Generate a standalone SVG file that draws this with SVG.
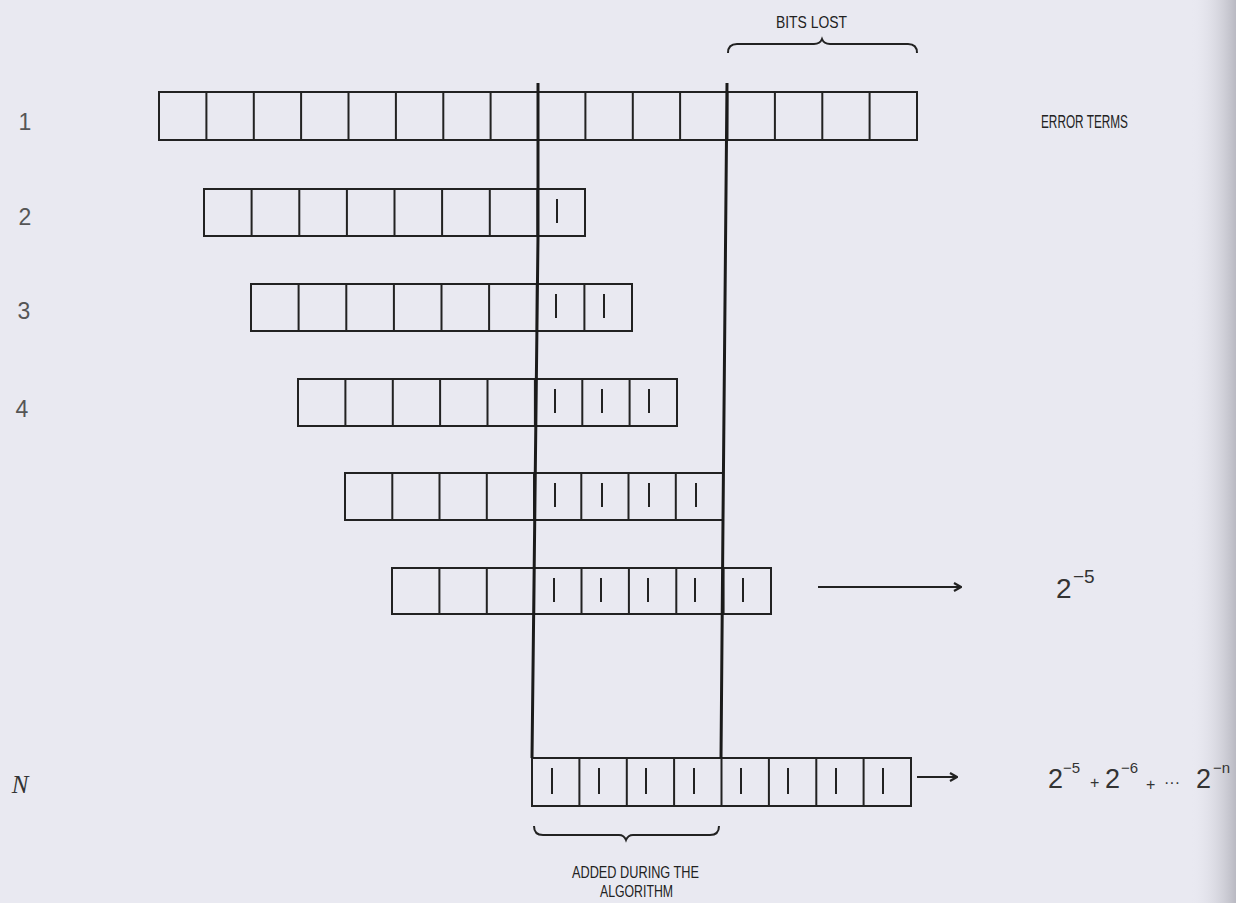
<svg xmlns="http://www.w3.org/2000/svg" width="1236" height="903" viewBox="0 0 1236 903">
<defs>
<style>
.cell{fill:none;stroke:#222;stroke-width:2}
.div{stroke:#222;stroke-width:2}
.mark{stroke:#222;stroke-width:2}
.bar{stroke:#1a1a1a;stroke-width:3;fill:none}
.brace{fill:none;stroke:#222;stroke-width:2}
.arr{stroke:#222;stroke-width:2;fill:none}
.lbl{font-family:"Liberation Sans",Arial,sans-serif;fill:#222}
.num{font-family:"Liberation Sans",Arial,sans-serif;fill:#555;font-size:23px;text-anchor:middle}
.math{font-family:"Liberation Sans",Arial,sans-serif;fill:#333}
</style>
<marker id="ah" viewBox="0 0 10 10" refX="9" refY="5" markerWidth="10" markerHeight="10" markerUnits="userSpaceOnUse" orient="auto">
<path d="M2,1 L9,5 L2,9" fill="none" stroke="#222" stroke-width="2.2"/>
</marker>
<linearGradient id="edge" x1="0" y1="0" x2="1" y2="0">
<stop offset="0" stop-color="#e9e9f1" stop-opacity="0"/>
<stop offset="1" stop-color="#b9b9c2"/>
</linearGradient>
</defs>
<rect x="0" y="0" width="1236" height="903" fill="#e9e9f1"/>
<rect x="1190" y="0" width="46" height="903" fill="url(#edge)"/>

<g id="row-labels">
<text class="num" x="25" y="130">1</text>
<text class="num" x="25" y="225">2</text>
<text class="num" x="24" y="319">3</text>
<text class="num" x="22" y="417">4</text>
<text x="20" y="793" style="font-family:'Liberation Serif',serif;font-style:italic;font-size:25px;fill:#333;text-anchor:middle">N</text>
</g>

<g id="row1">
<rect class="cell" x="159" y="92" width="758" height="48"/>
<path class="div" d="M206.4,92V140M253.8,92V140M301.1,92V140M348.5,92V140M395.9,92V140M443.3,92V140M490.6,92V140M538,92V140M585.4,92V140M632.8,92V140M680.1,92V140M727.5,92V140M774.9,92V140M822.3,92V140M869.6,92V140"/>
</g>

<g id="row2">
<rect class="cell" x="204" y="189" width="381" height="47"/>
<path class="div" d="M251.6,189V236M299.3,189V236M346.9,189V236M394.5,189V236M442.1,189V236M489.8,189V236M537.4,189V236"/>
<path class="mark" d="M557,199V223"/>
</g>

<g id="row3">
<rect class="cell" x="251" y="284" width="381" height="47"/>
<path class="div" d="M298.6,284V331M346.3,284V331M393.9,284V331M441.5,284V331M489.1,284V331M536.8,284V331M584.4,284V331"/>
<path class="mark" d="M556,294V318M604,294V318"/>
</g>

<g id="row4">
<rect class="cell" x="298" y="379" width="379" height="47"/>
<path class="div" d="M345.4,379V426M392.8,379V426M440.1,379V426M487.5,379V426M534.9,379V426M582.3,379V426M629.6,379V426"/>
<path class="mark" d="M555,389V413M602,389V413M649,389V413"/>
</g>

<g id="row5">
<rect class="cell" x="345" y="473" width="378" height="47"/>
<path class="div" d="M392.3,473V520M439.5,473V520M486.8,473V520M534,473V520M581.3,473V520M628.5,473V520M675.8,473V520"/>
<path class="mark" d="M555,483V507M602,483V507M649,483V507M696,483V507"/>
</g>

<g id="row6">
<rect class="cell" x="392" y="568" width="379" height="46"/>
<path class="div" d="M439.4,568V614M486.8,568V614M534.1,568V614M581.5,568V614M628.9,568V614M676.3,568V614M723.6,568V614"/>
<path class="mark" d="M554,578V602M601,578V602M648,578V602M695,578V602M743,578V602"/>
</g>

<g id="rowN">
<rect class="cell" x="532" y="758" width="379" height="48"/>
<path class="div" d="M579.4,758V806M626.8,758V806M674.1,758V806M721.5,758V806M768.9,758V806M816.3,758V806M863.6,758V806"/>
<path class="mark" d="M552,768V794M599,768V794M646,768V794M694,768V794M741,768V794M788,768V794M836,768V794M883,768V794"/>
</g>

<g id="connectors">
<path class="bar" d="M538,83L538,236L532,758"/>
<path class="bar" d="M727,83L723,520L721,758"/>
<path class="arr" d="M818,587H961" marker-end="url(#ah)"/>
<path class="arr" d="M917,777H957" marker-end="url(#ah)"/>
<path class="brace" d="M728,53Q728,44 737,44L814,44Q820,44 822,39Q824,44 830,44L908,44Q917,44 917,53"/>
<path class="brace" d="M534,826Q534,835 543,835L619,835Q624,835 626,840Q628,835 633,835L710,835Q719,835 719,826"/>
</g>

<g id="labels">
<text class="lbl" x="776" y="28" font-size="17" textLength="71" lengthAdjust="spacingAndGlyphs">BITS LOST</text>
<text class="lbl" x="1041" y="128" font-size="19" textLength="87" lengthAdjust="spacingAndGlyphs">ERROR TERMS</text>
<text class="lbl" x="572" y="878" font-size="17" textLength="127" lengthAdjust="spacingAndGlyphs">ADDED DURING THE</text>
<text class="lbl" x="600" y="897" font-size="16" textLength="73" lengthAdjust="spacingAndGlyphs">ALGORITHM</text>
</g>

<g id="formula-6">
<text class="math" x="1056" y="598" font-size="28">2</text>
<text class="math" x="1073" y="583" font-size="19">−5</text>
</g>

<g id="formula-N">
<text class="math" x="1048" y="788" font-size="27">2</text>
<text class="math" x="1063" y="773" font-size="15">−5</text>
<text class="math" x="1090" y="788" font-size="16">+</text>
<text class="math" x="1105" y="788" font-size="27">2</text>
<text class="math" x="1121" y="773" font-size="15">−6</text>
<text class="math" x="1146" y="790" font-size="16">+</text>
<text class="math" x="1164" y="788" font-size="16">···</text>
<text class="math" x="1196" y="788" font-size="27">2</text>
<text class="math" x="1213" y="773" font-size="15">−n</text>
</g>
</svg>
